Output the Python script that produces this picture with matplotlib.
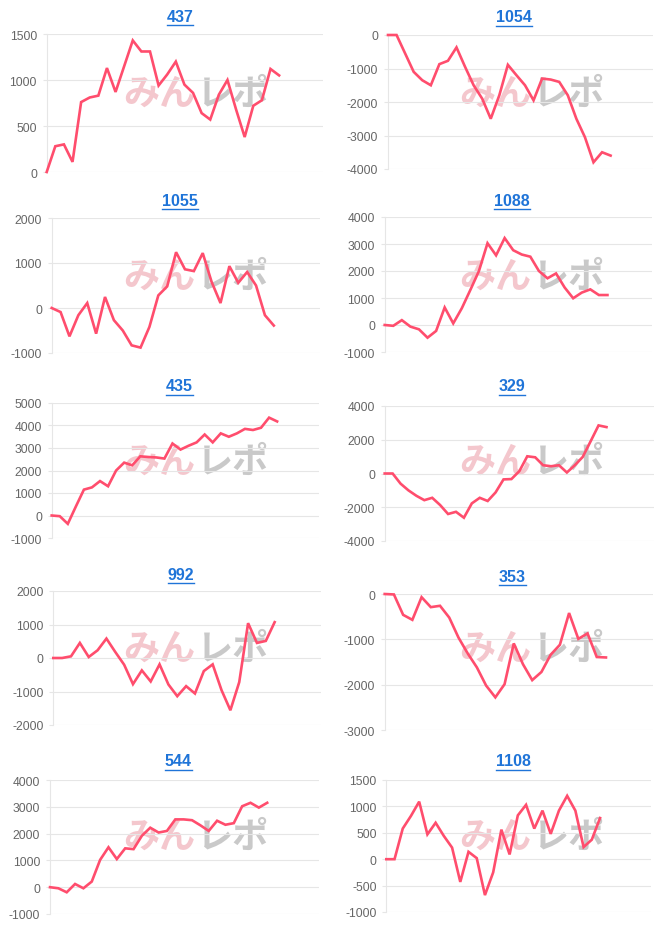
import matplotlib
matplotlib.use('Agg')
import numpy as np
from matplotlib import pyplot as plt
from matplotlib.lines import Line2D


titles = ['437', '1054', '1055', '1088', '435', '329', '992', '353', '544', '1108']

s437 = [0, 280, 300, 110, 760, 810, 830, 1130, 870, 1150, 1430, 1310, 1310, 940,
        1060, 1200, 950, 860, 640, 570, 840, 1000, 680, 380, 720, 780, 1120, 1050]
s1054 = [0, 0, -550, -1100, -1350, -1500, -870, -770, -370, -950, -1500, -1900, -2500,
         -1800, -890, -1200, -1500, -1950, -1300, -1330, -1400, -1800, -2500, -3050,
         -3800, -3500, -3600]
s1055 = [0, -90, -630, -160, 110, -570, 245, -270, -500, -830, -880, -420, 280, 480,
         1240, 860, 820, 1220, 580, 110, 930, 560, 800, 500, -160, -390]
s1088 = [0, -30, 180, -60, -160, -470, -220, 650, 60, 620, 1300, 2000, 3030, 2580,
         3220, 2770, 2610, 2530, 2000, 1730, 1910, 1390, 990, 1200, 1320, 1110, 1110]
s435 = [0, -30, -370, 400, 1150, 1250, 1530, 1300, 2000, 2350, 2230, 2630, 2600, 2580,
        2530, 3200, 2930, 3100, 3250, 3600, 3250, 3650, 3500, 3650, 3850, 3800, 3900,
        4350, 4180]
s329 = [0, 0, -600, -1000, -1320, -1580, -1440, -1870, -2400, -2270, -2620, -1770,
        -1440, -1630, -1120, -350, -330, 140, 1020, 960, 490, 430, 490, 60, 490, 980,
        1910, 2850, 2750]
s992 = [0, 0, 50, 450, 30, 230, 580, 180, -200, -780, -370, -700, -190, -790, -1140,
        -840, -1060, -390, -190, -960, -1560, -720, 1040, 450, 510, 1070]
s353 = [0, -10, -460, -570, -70, -290, -260, -520, -960, -1310, -1620, -2020, -2280,
        -1990, -1090, -1550, -1900, -1720, -1340, -1120, -420, -990, -870, -1390, -1400]
s544 = [0, -40, -190, 120, -40, 210, 1020, 1490, 1050, 1450, 1420, 1920, 2220, 2040,
        2100, 2530, 2530, 2500, 2310, 2100, 2480, 2330, 2390, 3020, 3150, 2970, 3150]
s1108 = [0, 0, 580, 820, 1090, 470, 690, 440, 220, -430, 140, 20, -680, -250, 560, 90,
         830, 1030, 580, 920, 480, 920, 1200, 920, 230, 370, 780]

series = [s437, s1054, s1055, s1088, s435, s329, s992, s353, s544, s1108]

yticks = [
    [0, 500, 1000, 1500],
    [-4000, -3000, -2000, -1000, 0],
    [-1000, 0, 1000, 2000],
    [-1000, 0, 1000, 2000, 3000, 4000],
    [-1000, 0, 1000, 2000, 3000, 4000, 5000],
    [-4000, -2000, 0, 2000, 4000],
    [-2000, -1000, 0, 1000, 2000],
    [-3000, -2000, -1000, 0],
    [-1000, 0, 1000, 2000, 3000, 4000],
    [-1000, -500, 0, 500, 1000, 1500],
]

# layout in pixels: (left, top, right, bottom)
boxes = [
    (46.7, 35, 323, 173), (388, 36, 653, 170),
    (51.7, 219, 320, 354), (384.7, 218, 652, 353),
    (51.7, 404, 319, 539), (384.7, 407, 654, 542),
    (53.3, 592, 320.7, 726), (384.7, 595, 653, 731),
    (50, 781, 319, 915), (386.3, 781, 651, 913),
]
xmax = [32.1, 30.95, 30.2, 31.2, 33.2, 34.0, 30.2, 29.1, 32.2, 32.2]
title_xy = [(180, 17), (514, 18), (180, 201), (512, 201), (179, 387),
            (512, 387), (181, 575), (512, 577), (178, 762), (513, 762)]
wm_y = [94, 277, 462, 649, 837]

W, H = 666, 929
LINE = '#ff4d6d'
GRID = '#e6e6e6'
BLUE = '#1f74d8'

plt.rcParams['font.family'] = ['Liberation Sans', 'DejaVu Sans']
fig = plt.figure(figsize=(W / 100, H / 100), dpi=100)

title_texts = []
for i in range(10):
    l, t, r, b = boxes[i]
    ax = fig.add_axes([l / W, 1 - b / H, (r - l) / W, (b - t) / H])
    ax.set_facecolor('none')
    ax.set_zorder(2)
    y = series[i]
    ax.plot(np.arange(len(y)), y, color=LINE, lw=1.9, solid_joinstyle='miter',
            clip_on=False, zorder=3)
    ax.set_xlim(0, xmax[i])
    ax.set_ylim(yticks[i][0], yticks[i][-1])
    ax.set_yticks(yticks[i])
    ax.set_yticklabels([str(v) for v in yticks[i]])
    ax.set_xticks([])
    ax.grid(axis='y', color=GRID, lw=0.8)
    ax.tick_params(axis='y', length=3, width=0.8, color=GRID, pad=4,
                   labelsize=8.7, labelcolor='#666666')
    for s in ['top', 'right', 'bottom']:
        ax.spines[s].set_visible(False)
    ax.spines['left'].set_color(GRID)
    ax.spines['left'].set_linewidth(0.8)

    tx, ty = title_xy[i]
    tt = fig.text(tx / W, 1 - ty / H, titles[i], ha='center', va='center',
                  fontsize=11.5, fontweight='bold', color=BLUE)
    title_texts.append(tt)

    # watermark
    col = i % 2
    row = i // 2
    sx = 195 if col == 0 else 531
    wy = 1 - wm_y[row] / H
    fig.text(sx / W, wy, 'みん', ha='right', va='center', fontsize=26,
             fontweight='bold', family=['Noto Sans CJK JP'], color='#e57a8a',
             alpha=0.42, zorder=1)
    fig.text(sx / W + 2 / W, wy, 'レポ', ha='left', va='center', fontsize=26,
             fontweight='bold', family=['Noto Sans CJK JP'], color='#808080',
             alpha=0.42, zorder=1)

fig.canvas.draw()
r = fig.canvas.get_renderer()
for tt in title_texts:
    bb = tt.get_window_extent(renderer=r)
    yl = (bb.y0 - 1.5) / H
    fig.add_artist(Line2D([bb.x0 / W, bb.x1 / W], [yl, yl], color=BLUE,
                          lw=1.0, transform=fig.transFigure))

fig.savefig('out.png', dpi=100, facecolor='white')
